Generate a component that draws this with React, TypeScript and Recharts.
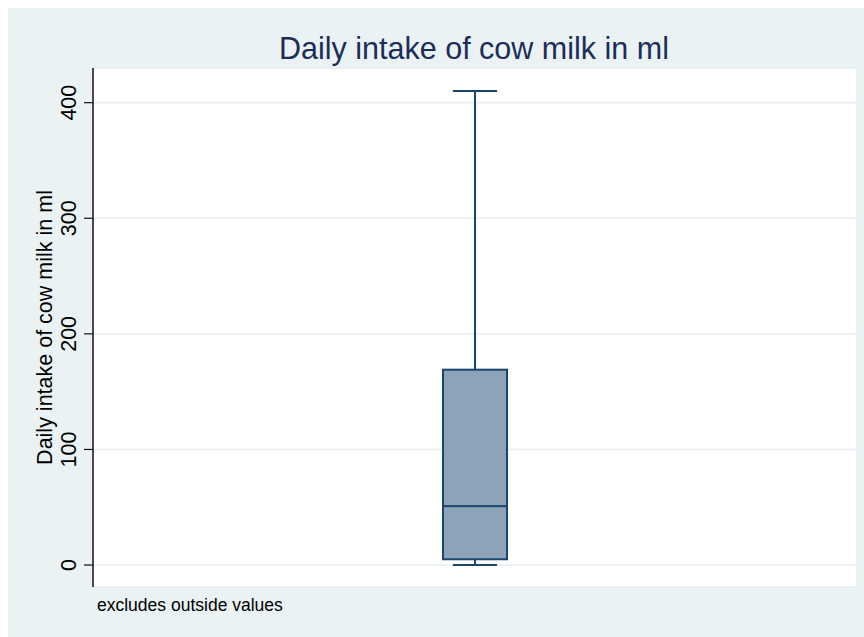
import React from 'react';
import { ComposedChart, Bar, XAxis, YAxis, CartesianGrid } from 'recharts';

// box plot summary (ml per day)
const categories = ['Daily intake of cow milk in ml'];
const minValues = [0];
const q1Values = [5];
const medianValues = [51];
const q3Values = [169];
const maxValues = [410];
const yTicks = [0, 100, 200, 300, 400];

const NAVY = '#1a476f';
const BOX_FILL = '#8da3b8';
const FONT = '"Liberation Sans", Arial, Helvetica, sans-serif';

const data = categories.map((name, i) => ({
  name,
  base: minValues[i],
  lowerWhisker: q1Values[i] - minValues[i],
  lowerBox: medianValues[i] - q1Values[i],
  upperBox: q3Values[i] - medianValues[i],
  upperWhisker: maxValues[i] - q3Values[i],
}));

const whisker = (cap: 'top' | 'bottom') => (props: any) => {
  const { x, y, width, height } = props;
  const cx = x + width / 2;
  const capY = cap === 'top' ? y : y + height;
  const half = width * 0.345;
  return (
    <g>
      <line x1={cx} x2={cx} y1={y} y2={y + height} stroke={NAVY} strokeWidth={2} />
      <line x1={cx - half} x2={cx + half} y1={capY} y2={capY} stroke={NAVY} strokeWidth={2} />
    </g>
  );
};

const boxShape = (props: any) => {
  const { x, y, width, height } = props;
  return <rect x={x} y={y} width={width} height={height} fill={BOX_FILL} stroke={NAVY} strokeWidth={2} />;
};

const YTick = (props: any) => {
  const { x, y, payload } = props;
  return (
    <text
      transform={`translate(${x - 6}, ${y}) rotate(-90)`}
      textAnchor="middle"
      fontSize={21.5}
      fontFamily={FONT}
      fill="#000"
    >
      {payload.value}
    </text>
  );
};

const YLabel = (props: any) => {
  const { viewBox } = props;
  const cy = viewBox.y + viewBox.height / 2;
  return (
    <text
      transform={`translate(${viewBox.x + 19}, ${cy}) rotate(-90)`}
      textAnchor="middle"
      fontSize={21.5}
      fontFamily={FONT}
      fill="#000"
    >
      Daily intake of cow milk in ml
    </text>
  );
};

export default function App() {
  return (
    <div style={{ position: 'absolute', left: 0, top: 0, width: 864, height: 637, background: '#fff', overflow: 'hidden' }}>
      <div style={{ position: 'absolute', left: 8, top: 8, right: 0, bottom: 0, background: '#eaf2f3' }} />
      <div style={{ position: 'absolute', left: 0, top: 0 }}>
        <ComposedChart
          width={864}
          height={637}
          data={data}
          margin={{ top: 68, right: 8, bottom: 50, left: 33 }}
          barSize={64}
        >
          <CartesianGrid vertical={false} fill="#ffffff" stroke="#e6eef0" strokeWidth={1.5} />
          <XAxis
            dataKey="name"
            tick={false}
            tickLine={false}
            height={0}
            axisLine={{ stroke: '#111', strokeWidth: 1.5 }}
          />
          <YAxis
            type="number"
            domain={[-19, 430]}
            allowDataOverflow
            ticks={yTicks}
            width={60}
            tickSize={9}
            tick={<YTick />}
            tickLine={{ stroke: '#111', strokeWidth: 1.2 }}
            axisLine={{ stroke: '#111', strokeWidth: 1.5 }}
            label={(p: any) => <YLabel {...p} />}
          />
          <Bar dataKey="base" stackId="box" fill="none" isAnimationActive={false} />
          <Bar dataKey="lowerWhisker" stackId="box" shape={whisker('bottom')} isAnimationActive={false} />
          <Bar dataKey="lowerBox" stackId="box" shape={boxShape} isAnimationActive={false} />
          <Bar dataKey="upperBox" stackId="box" shape={boxShape} isAnimationActive={false} />
          <Bar dataKey="upperWhisker" stackId="box" shape={whisker('top')} isAnimationActive={false} />
        </ComposedChart>
      </div>
      <svg width={864} height={637} style={{ position: 'absolute', left: 0, top: 0, pointerEvents: 'none' }}>
        <text x={474} y={59} textAnchor="middle" fontSize={30.5} fontFamily={FONT} fill="#1c2d5a">
          Daily intake of cow milk in ml
        </text>
        <text x={97} y={611} fontSize={17.5} fontFamily={FONT} fill="#000">
          excludes outside values
        </text>
      </svg>
    </div>
  );
}
